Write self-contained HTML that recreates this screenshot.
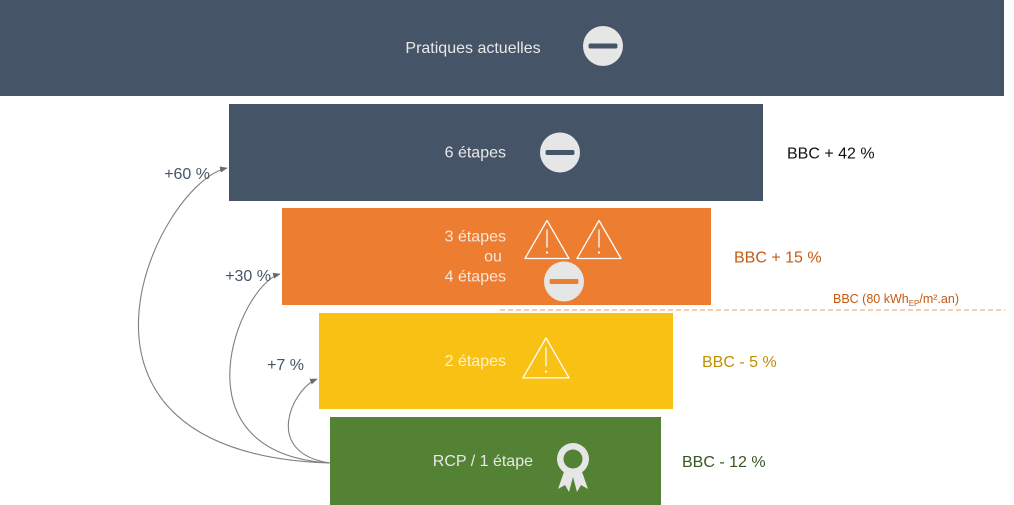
<!DOCTYPE html>
<html><head><meta charset="utf-8"><style>
html,body{margin:0;padding:0;background:#fff;width:1014px;height:505px;overflow:hidden}
svg{display:block;font-family:"Liberation Sans","DejaVu Sans",sans-serif}
</style></head><body>
<svg id="chart" width="1014" height="505" viewBox="0 0 1014 505">
<defs>
<marker id="ah" viewBox="0 0 10 10" refX="9" refY="5" markerWidth="7" markerHeight="7" orient="auto"><path d="M0,1 L10,5 L0,9 z" fill="#6b6b6b"/></marker>
</defs>
</svg>
<script>
// Data arrays
const tierLabels = [["Pratiques actuelles"],["6 étapes"],["3 étapes","ou","4 étapes"],["2 étapes"],["RCP / 1 étape"]];
const tierLefts = [0,229,282,319,330];
const tierRights = [1004,763,711,673,661];
const tierTops = [0,104,208,313,417];
const tierBottoms = [96,201,305,409,505];
const tierColors = ["#465468","#465468","#ed7d31","#f9c114","#548235"];
const tierTextColors = ["#e8e8e8","#e8e8e8","#fbe5d6","#fff2cc","#e8e8e8"];
const bbcLabels = ["","BBC + 42 %","BBC + 15 %","BBC - 5 %","BBC - 12 %"];
const bbcColors = ["","#111","#c55a11","#bf8f00","#375623"];
const bbcX = [0,787,734,702,682];
const gainLabels = ["+60 %","+30 %","+7 %"];
const gainTargets = [1,2,3];

const svg = document.getElementById('chart');
const NS = "http://www.w3.org/2000/svg";
function mk(tag, attrs, parent){const e=document.createElementNS(NS,tag);for(const k in attrs)e.setAttribute(k,attrs[k]);(parent||svg).appendChild(e);return e;}

function drawMinus(cx,cy,r,color,g){
  mk('circle',{cx:cx,cy:cy,r:r,fill:'#e7e6e6'},g);
  mk('rect',{x:cx-r*0.72,y:cy-2.5,width:r*1.44,height:5,fill:color,rx:1.5},g);
}
function drawWarn(cx,cy,s,g){
  mk('path',{d:`M${cx},${cy-s} L${cx+s*1.1},${cy+s*0.9} L${cx-s*1.1},${cy+s*0.9} Z`,fill:'none',stroke:'#fff','stroke-width':1.3,'stroke-linejoin':'round'},g);
  mk('line',{x1:cx,y1:cy-s*0.55,x2:cx,y2:cy+s*0.35,stroke:'#fff','stroke-width':1.3},g);
  mk('circle',{cx:cx,cy:cy+s*0.6,r:1.1,fill:'#fff'},g);
}
function drawAward(cx,cy,g){
  mk('path',{d:`M${cx-8},${cy+10} L${cx-15},${cy+30} L${cx-8},${cy+26} L${cx-4},${cy+33} L${cx},${cy+18} L${cx+4},${cy+33} L${cx+8},${cy+26} L${cx+15},${cy+30} L${cx+8},${cy+10} Z`,fill:'#e7e6e6'},g);
  mk('circle',{cx:cx,cy:cy,r:16,fill:'#e7e6e6'},g);
  mk('circle',{cx:cx,cy:cy,r:9.5,fill:'#548235'},g);
}

for(let i=0;i<tierLabels.length;i++){
  const g=mk('g',{});
  
  
  const r=mk('rect',{x:tierLefts[i],y:tierTops[i],width:tierRights[i]-tierLefts[i],height:tierBottoms[i]-tierTops[i],fill:tierColors[i]},g);
  
  
  const cy=(tierTops[i]+tierBottoms[i])/2;
  const lines=tierLabels[i];
  const textRight = i===4 ? 533 : 506;
  const anchorX = i===0 ? 473 : textRight;
  const anchor = i===0 ? 'middle' : 'end';
  lines.forEach((ln,k)=>{
    const t=mk('text',{x:(lines.length>1&&k===1)?anchorX-13:anchorX,y:cy+5+(k-(lines.length-1)/2)*20,'text-anchor':(lines.length>1&&k===1)?'middle':anchor,'font-size':16,fill:tierTextColors[i]},g);
    t.textContent=ln;
    
    
  });
  if(i===0) drawMinus(603,46,20,tierColors[i],g);
  else if(i===1) drawMinus(560,cy,20,tierColors[i],g);
  else if(i===2){drawWarn(547,cy-16,20,g);drawWarn(599,cy-16,20,g);drawMinus(564,cy+25,20,tierColors[i],g);}
  else if(i===3) drawWarn(546,cy-2,21,g);
  else drawAward(573,459,g);
  if(bbcLabels[i]){
    const b=mk('text',{x:bbcX[i],y:cy+6,'font-size':16,fill:bbcColors[i]});
    b.textContent=bbcLabels[i];
    
    
  }
}

// BBC reference line
const ref=mk('line',{x1:500,y1:310,x2:1005,y2:310,stroke:'#f4b183','stroke-width':1.2,'stroke-dasharray':'5,3'});


const rt=mk('text',{x:833,y:303,'font-size':12.5,fill:'#c55a11'});


rt.innerHTML='BBC (80 kWh<tspan font-size="8" dy="3">EP</tspan><tspan dy="-3">/m².an)</tspan>';

// Gain arcs from green bar
const sx=330, sy=463;
gainLabels.forEach((lab,k)=>{
  const ti=gainTargets[k];
  const tx=tierLefts[ti]-2, ty=tierTops[ti]+(k===0?64:66);
  const c1x=tx-(k===0?200:k===1?110:55), c1y=sy-10;
  const c2x=tx-(k===0?70:k===1?40:25), c2y=ty+(k===0?15:10);
  const p=mk('path',{d:`M${sx},${sy} C${c1x},${c1y} ${c2x},${c2y} ${tx},${ty}`,fill:'none',stroke:'#7f7f7f','stroke-width':1.1,'marker-end':'url(#ah)'});
  
  
  const lx=[210,271,304][k], ly=[179,281,370][k];
  const t=mk('text',{x:lx,y:ly,'text-anchor':'end','font-size':16,fill:'#44546a'});
  t.textContent=lab;
  
  
});
</script>
</body></html>
